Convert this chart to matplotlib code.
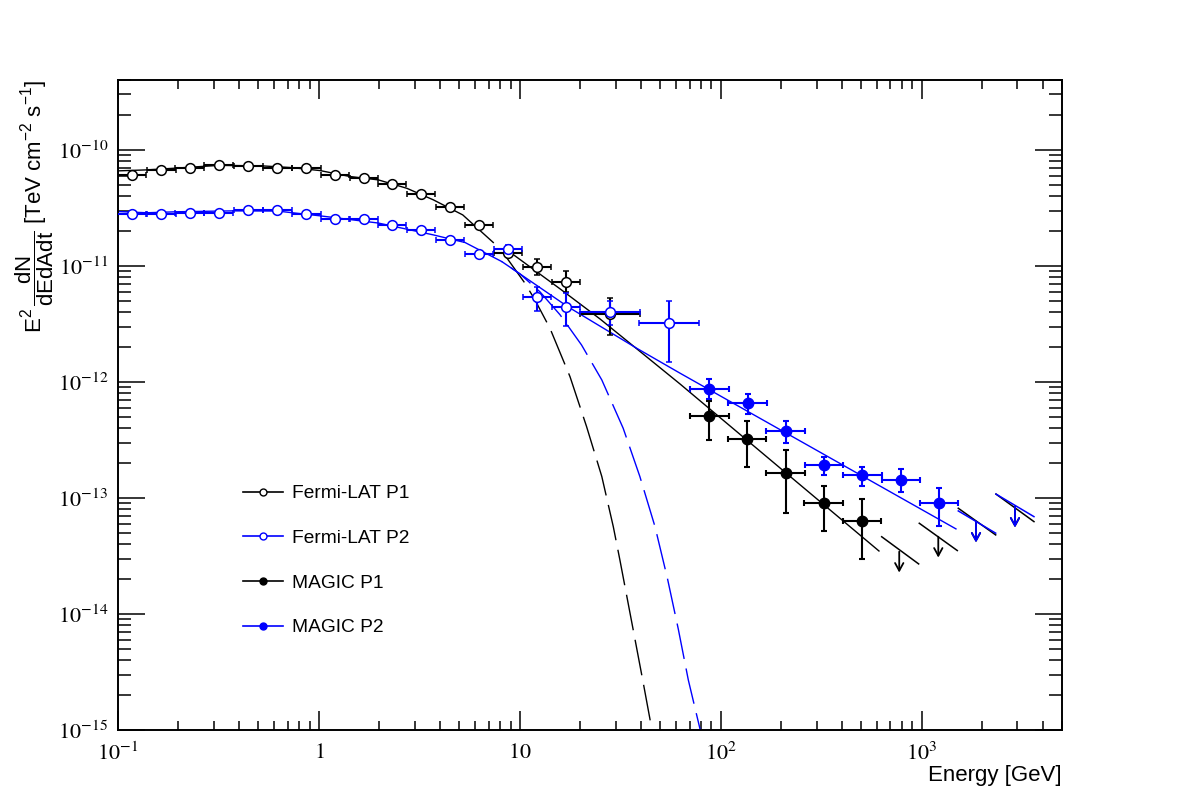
import numpy as np
import matplotlib.pyplot as plt
from matplotlib.lines import Line2D
from matplotlib.ticker import LogLocator, NullFormatter

plt.rcParams['font.family'] = ['Liberation Sans', 'DejaVu Sans']
plt.rcParams['mathtext.fontset'] = 'custom'
plt.rcParams['mathtext.rm'] = 'Liberation Sans'
plt.rcParams['mathtext.it'] = 'Liberation Sans:italic'
plt.rcParams['mathtext.bf'] = 'Liberation Sans:bold'

BLUE = '#0000ff'

# ---- Fermi-LAT spectral points (E in GeV, E^2 dN/dE in TeV cm-2 s-1) ----
fermi_p1_E = [0.117, 0.164, 0.228, 0.318, 0.444, 0.619, 0.863, 1.203, 1.677, 2.311,
              3.222, 4.494, 6.266, 8.737, 12.18, 16.99, 28.1]
fermi_p1_dlog = [0.072] * 16 + [0.149]
fermi_p1_F = [6.08e-11, 6.64e-11, 6.96e-11, 7.43e-11, 7.33e-11, 7.03e-11, 7.03e-11, 6.08e-11,
              5.74e-11, 5.06e-11, 4.15e-11, 3.21e-11, 2.26e-11, 1.30e-11, 9.86e-12, 7.32e-12, 3.84e-12]
fermi_p1_lo = [5.95e-11, 6.50e-11, 6.82e-11, 7.28e-11, 7.18e-11, 6.89e-11, 6.88e-11, 5.95e-11,
               5.60e-11, 4.93e-11, 4.03e-11, 3.10e-11, 2.15e-11, 1.22e-11, 8.35e-12, 5.97e-12, 2.54e-12]
fermi_p1_hi = [6.21e-11, 6.78e-11, 7.10e-11, 7.58e-11, 7.48e-11, 7.17e-11, 7.18e-11, 6.21e-11,
               5.88e-11, 5.19e-11, 4.27e-11, 3.32e-11, 2.37e-11, 1.38e-11, 1.15e-11, 9.06e-12, 5.30e-12]

fermi_p2_E = [0.117, 0.164, 0.228, 0.318, 0.444, 0.619, 0.863, 1.203, 1.677, 2.311,
              3.222, 4.494, 6.266, 8.737, 12.18, 16.99, 28.1, 55.3]
fermi_p2_dlog = [0.072] * 16 + [0.149, 0.147]
fermi_p2_F = [2.79e-11, 2.79e-11, 2.85e-11, 2.88e-11, 3.04e-11, 3.04e-11, 2.79e-11, 2.56e-11, 2.53e-11,
              2.26e-11, 2.04e-11, 1.68e-11, 1.27e-11, 1.39e-11, 5.37e-12, 4.40e-12, 4.04e-12, 3.24e-12]
fermi_p2_lo = [2.72e-11, 2.72e-11, 2.78e-11, 2.81e-11, 2.96e-11, 2.96e-11, 2.71e-11, 2.48e-11, 2.45e-11,
               2.18e-11, 1.96e-11, 1.60e-11, 1.19e-11, 1.29e-11, 4.09e-12, 3.04e-12, 3.10e-12, 1.49e-12]
fermi_p2_hi = [2.86e-11, 2.86e-11, 2.92e-11, 2.95e-11, 3.12e-11, 3.12e-11, 2.87e-11, 2.64e-11, 2.61e-11,
               2.34e-11, 2.12e-11, 1.76e-11, 1.35e-11, 1.52e-11, 6.59e-12, 5.85e-12, 4.99e-12, 4.99e-12]

# ---- MAGIC spectral points ----
magic_p1_E = [87.7, 135.5, 210.4, 325.0, 504.6]
magic_p1_F = [5.09e-13, 3.23e-13, 1.65e-13, 9.0e-14, 6.37e-14]
magic_p1_lo = [3.16e-13, 1.84e-13, 7.38e-14, 5.22e-14, 2.96e-14]
magic_p1_hi = [6.90e-13, 4.61e-13, 2.59e-13, 1.27e-13, 9.8e-14]

magic_p2_E = [87.7, 136.4, 210.4, 326.5, 507.0, 789.0, 1221.0]
magic_p2_F = [8.75e-13, 6.55e-13, 3.79e-13, 1.94e-13, 1.57e-13, 1.43e-13, 9.0e-14]
magic_p2_lo = [7.10e-13, 5.30e-13, 2.96e-13, 1.58e-13, 1.27e-13, 1.12e-13, 5.77e-14]
magic_p2_hi = [1.05e-12, 7.82e-13, 4.61e-13, 2.27e-13, 1.86e-13, 1.77e-13, 1.23e-13]
magic_dlog = 0.096

# ---- MAGIC upper limits: (E, value) plus the short spectral segment drawn with each ----
ul_p1_E = [774.0, 1211.0, 1866.0, 2917.0]
ul_p1_F = [3.44e-14, 4.63e-14, 6.25e-14, 8.41e-14]
ul_p1_seg = [((633, 4.63e-14), (967, 2.70e-14)), ((974, 6.05e-14), (1506, 3.52e-14)),
             ((1523, 8.15e-14), (2338, 4.80e-14)), ((2346, 1.08e-13), (3626, 6.25e-14))]
ul_p2_E = [1866.0, 2917.0]
ul_p2_F = [6.25e-14, 8.41e-14]
ul_p2_seg = [((1523, 7.73e-14), (2338, 4.97e-14)), ((2346, 1.08e-13), (3626, 6.90e-14))]

# ---- fitted curves ----
fit_fermi_p1_E = [0.1, 0.139, 0.192, 0.318, 0.527, 0.732, 1.013, 1.43, 1.976, 2.735, 3.71, 5.20, 7.38]
fit_fermi_p1_F = [6.59e-11, 6.72e-11, 6.95e-11, 7.35e-11, 7.27e-11, 7.03e-11, 6.63e-11, 5.89e-11,
                  5.51e-11, 4.67e-11, 3.71e-11, 2.75e-11, 1.59e-11]
ext_fermi_p1_E = [8.28, 10.61, 11.9, 14.13, 17.78, 21.5, 25.6, 29.2, 31.5, 36.7, 41.2, 45.4, 47.0]
ext_fermi_p1_F = [1.29e-11, 7.09e-12, 5.09e-12, 2.90e-12, 1.11e-12, 4.12e-13, 1.53e-13, 5.66e-14,
                  2.92e-14, 7.28e-15, 2.53e-15, 1.02e-15, 6.0e-16]

fit_fermi_p2_E = [0.1, 0.139, 0.2, 0.374, 0.619, 1.013, 1.976, 3.71, 5.34, 8.13]
fit_fermi_p2_F = [2.94e-11, 2.87e-11, 2.93e-11, 2.98e-11, 2.97e-11, 2.70e-11, 2.34e-11, 1.85e-11,
                  1.59e-11, 1.09e-11]
ext_fermi_p2_E = [8.13, 10.02, 12.61, 15.86, 20.3, 25.6, 32.7, 39.6, 47.1, 54.3, 61.5, 69.0, 78.9, 82.0]
ext_fermi_p2_F = [1.09e-11, 8.53e-12, 5.97e-12, 3.79e-12, 2.08e-12, 1.04e-12, 3.99e-13, 1.53e-13,
                  5.66e-14, 2.03e-14, 7.43e-15, 2.70e-15, 1.02e-15, 6.0e-16]

fit_magic_p1_E = [8.64, 15.86, 25.07, 38.2, 62.7, 208.9, 613.6]
fit_magic_p1_F = [1.37e-11, 6.34e-12, 3.49e-12, 1.93e-12, 9.61e-13, 1.67e-13, 3.49e-14]
fit_magic_p2_E = [9.11, 17.4, 38.2, 62.7, 1483.0]
fit_magic_p2_F = [9.55e-12, 4.43e-12, 1.95e-12, 1.19e-12, 5.41e-14]


def xerr_of(E, dlog):
    E = np.asarray(E, float)
    d = np.asarray(dlog, float)
    return [E - E * 10 ** (-d), E * 10 ** d - E]


def yerr_of(F, lo, hi):
    F = np.asarray(F, float)
    return [F - np.asarray(lo), np.asarray(hi) - F]


fig = plt.figure(figsize=(11.82, 8.11), dpi=100)
ax = fig.add_axes([118 / 1182, 81 / 811, 944 / 1182, 650 / 811])
ax.set_xscale('log')
ax.set_yscale('log')
ax.set_xlim(0.1, 5000)
ax.set_ylim(1e-15, 4e-10)

# curves
dash = (0, (26, 7))
ax.plot(fit_fermi_p1_E, fit_fermi_p1_F, color='black', lw=1.0, zorder=2)
ax.plot(ext_fermi_p1_E, ext_fermi_p1_F, color='black', lw=1.0, ls=dash, zorder=2)
ax.plot(fit_fermi_p2_E, fit_fermi_p2_F, color=BLUE, lw=1.0, zorder=2)
ax.plot(ext_fermi_p2_E, ext_fermi_p2_F, color=BLUE, lw=1.0, ls=dash, zorder=2)
ax.plot(fit_magic_p1_E, fit_magic_p1_F, color='black', lw=1.0, zorder=2)
ax.plot(fit_magic_p2_E, fit_magic_p2_F, color=BLUE, lw=1.0, zorder=2)

# data points
ekw = dict(ls='none', elinewidth=1.5, capsize=2.2, capthick=1.5, zorder=4)
ax.errorbar(fermi_p1_E, fermi_p1_F, xerr=xerr_of(fermi_p1_E, fermi_p1_dlog),
            yerr=yerr_of(fermi_p1_F, fermi_p1_lo, fermi_p1_hi), marker='o', ms=7,
            mfc='white', mec='black', mew=1.1, color='black', **ekw)
ax.errorbar(fermi_p2_E, fermi_p2_F, xerr=xerr_of(fermi_p2_E, fermi_p2_dlog),
            yerr=yerr_of(fermi_p2_F, fermi_p2_lo, fermi_p2_hi), marker='o', ms=7,
            mfc='white', mec=BLUE, mew=1.1, color=BLUE, **ekw)
ax.errorbar(magic_p1_E, magic_p1_F, xerr=xerr_of(magic_p1_E, [magic_dlog] * len(magic_p1_E)),
            yerr=yerr_of(magic_p1_F, magic_p1_lo, magic_p1_hi), marker='o', ms=7.5,
            color='black', **ekw)
ax.errorbar(magic_p2_E, magic_p2_F, xerr=xerr_of(magic_p2_E, [magic_dlog] * len(magic_p2_E)),
            yerr=yerr_of(magic_p2_F, magic_p2_lo, magic_p2_hi), marker='o', ms=7.5,
            color=BLUE, **ekw)

# upper limits
for segs, Es, Fs, col, z in [(ul_p1_seg, ul_p1_E, ul_p1_F, 'black', 3),
                             (ul_p2_seg, ul_p2_E, ul_p2_F, BLUE, 5)]:
    for (a, b), E, F in zip(segs, Es, Fs):
        ax.plot([a[0], b[0]], [a[1], b[1]], color=col, lw=1.1, zorder=z)
        ax.annotate('', xy=(E, F), xytext=(0, -15), textcoords='offset points',
                    arrowprops=dict(arrowstyle='<-,head_length=0.55,head_width=0.3',
                                    color=col, lw=1.3, shrinkA=0, shrinkB=0),
                    zorder=z)

# axes styling (ROOT look)
for sp in ax.spines.values():
    sp.set_linewidth(1.4)
ax.xaxis.set_major_locator(LogLocator(base=10, numticks=20))
ax.xaxis.set_minor_locator(LogLocator(base=10, subs=np.arange(2, 10), numticks=20))
ax.yaxis.set_major_locator(LogLocator(base=10, numticks=20))
ax.yaxis.set_minor_locator(LogLocator(base=10, subs=np.arange(2, 10), numticks=20))
ax.xaxis.set_minor_formatter(NullFormatter())
ax.yaxis.set_minor_formatter(NullFormatter())

xticks = [0.1, 1, 10, 100, 1000]
xlabels = [r'$10^{-1}$', r'$1$', r'$10$', r'$10^{2}$', r'$10^{3}$']
ax.set_xticks(xticks, xlabels, fontsize=16, math_fontfamily='stix')
yticks = [1e-15, 1e-14, 1e-13, 1e-12, 1e-11, 1e-10]
ylabels = [r'$10^{-15}$', r'$10^{-14}$', r'$10^{-13}$', r'$10^{-12}$', r'$10^{-11}$', r'$10^{-10}$']
ax.set_yticks(yticks, ylabels, fontsize=16, math_fontfamily='stix')

ax.tick_params(which='both', direction='in', top=True, right=True, width=1.1, color='black')
ax.tick_params(axis='x', which='major', length=13.7, pad=9)
ax.tick_params(axis='x', which='minor', length=6.8)
ax.tick_params(axis='y', which='major', length=19.4, pad=7)
ax.tick_params(axis='y', which='minor', length=9.4)

ax.set_xlabel('Energy [GeV]', fontsize=16, loc='right')
ax.xaxis.set_label_coords(1.0, -0.054)
ax.set_ylabel(r'$\mathrm{E}^{2}\,\dfrac{\mathrm{dN}}{\mathrm{dEdAdt}}$ [TeV cm$^{-2}$ s$^{-1}$]',
              fontsize=16, loc='top')
ax.yaxis.set_label_coords(-0.066, 1.0)

# legend
handles = [
    Line2D([], [], color='black', lw=1.2, marker='o', ms=5, mfc='white', mec='black', mew=1.0),
    Line2D([], [], color=BLUE, lw=1.2, marker='o', ms=5, mfc='white', mec=BLUE, mew=1.0),
    Line2D([], [], color='black', lw=1.2, marker='o', ms=5),
    Line2D([], [], color=BLUE, lw=1.2, marker='o', ms=5),
]
labels = ['Fermi-LAT P1', 'Fermi-LAT P2', 'MAGIC P1', 'MAGIC P2']
fig.legend(handles, labels, loc='upper left', bbox_to_anchor=(243 / 1182, 1 - 485 / 811),
           frameon=False, fontsize=13.8, handlelength=2.1, handletextpad=0.45,
           labelspacing=1.42, borderpad=0, borderaxespad=0)

fig.savefig('out.png', dpi=100)
